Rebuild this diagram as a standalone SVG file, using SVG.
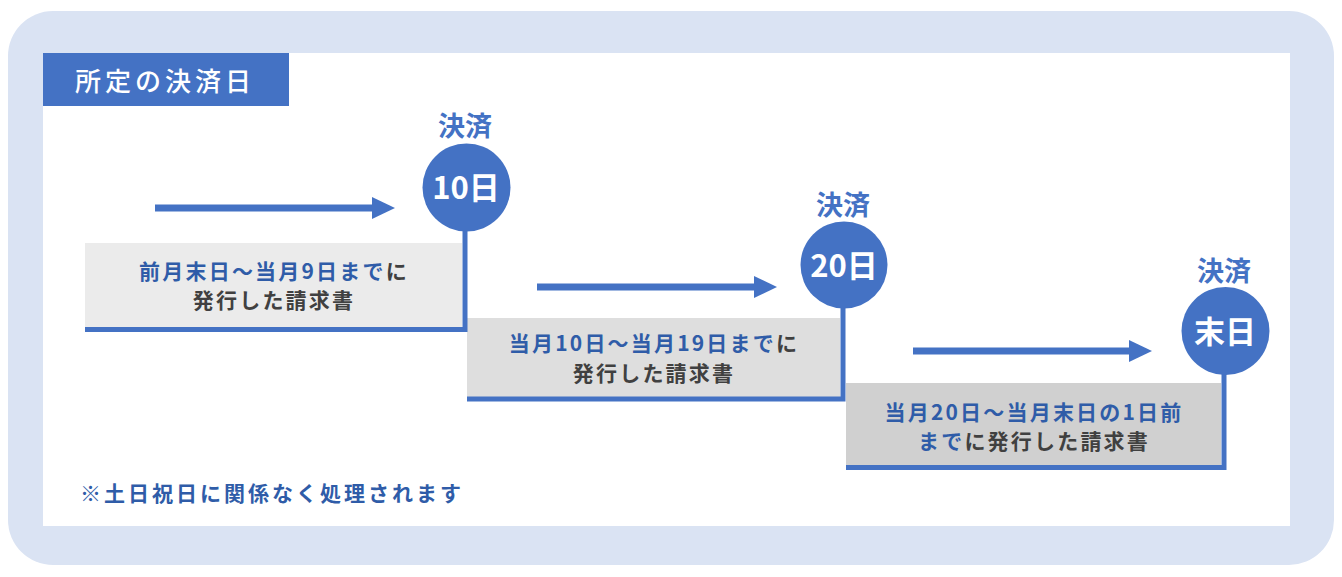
<svg xmlns="http://www.w3.org/2000/svg" width="1342" height="577" viewBox="0 0 1342 577">
<style>
text{font-family:"Noto Sans CJK JP","Noto Sans",sans-serif;font-weight:bold;text-anchor:middle;dominant-baseline:central}
.blue{fill:#2F5CA8}
.dark{fill:#404040}
.lbl{font-size:27px;fill:#4472C4}
.circ{fill:#4472C4}
.ctxt{font-size:31px;fill:#FFFFFF}
.box{font-size:21px;letter-spacing:2.2px}
.conn{stroke:#4472C4;stroke-width:5;fill:none}
.arr{stroke:#4472C4;stroke-width:7;fill:none}
</style>
<defs>
<marker id="ah" markerUnits="userSpaceOnUse" markerWidth="23" markerHeight="23" refX="0" refY="11" orient="auto">
<path d="M0,0 L23,11 L0,22 z" fill="#4472C4"/>
</marker>
</defs>
<rect x="0" y="0" width="1342" height="577" fill="#FFFFFF"/>
<rect x="8" y="11" width="1326" height="554" rx="45" fill="#DAE3F3"/>
<rect x="43" y="53" width="1247" height="473" fill="#FFFFFF"/>
<g id="title">
<rect x="43" y="53" width="246" height="53" fill="#4472C4"/>
<text x="165" y="79" style="font-size:26px;font-weight:500;letter-spacing:4px;fill:#FFFFFF">所定の決済日</text>
</g>
<g id="box1">
<rect x="85" y="243" width="377" height="84" fill="#EBEBEB"/>
<text x="274" y="270" class="box"><tspan class="blue">前月末日～当月9日まで</tspan><tspan class="dark">に</tspan></text>
<text x="274" y="298.5" class="box dark">発行した請求書</text>
</g>
<g id="box2">
<rect x="467" y="318" width="373" height="79" fill="#DEDEDE"/>
<text x="654" y="342" class="box"><tspan class="blue">当月10日～当月19日まで</tspan><tspan class="dark">に</tspan></text>
<text x="654" y="372" class="box dark">発行した請求書</text>
</g>
<g id="box3">
<rect x="846" y="383" width="375" height="83" fill="#D0D0D0"/>
<text x="1034" y="411" class="box blue">当月20日～当月末日の1日前</text>
<text x="1034" y="440" class="box"><tspan class="blue">まで</tspan><tspan class="dark">に発行した請求書</tspan></text>
</g>
<g id="connectors">
<path class="conn" d="M465,188 V329.5 H85"/>
<path class="conn" d="M843,265 V399 H467"/>
<path class="conn" d="M1224,331 V467.5 H846"/>
<line class="arr" x1="155" y1="208" x2="372" y2="208" marker-end="url(#ah)"/>
<line class="arr" x1="537" y1="287" x2="754" y2="287" marker-end="url(#ah)"/>
<line class="arr" x1="913" y1="351" x2="1129" y2="351" marker-end="url(#ah)"/>
</g>
<g id="node10">
<text x="465" y="124" class="lbl">決済</text>
<circle cx="466.5" cy="187.5" r="44" class="circ"/>
<text x="466" y="185" class="ctxt">10日</text>
</g>
<g id="node20">
<text x="843" y="203" class="lbl">決済</text>
<circle cx="844" cy="265" r="43.5" class="circ"/>
<text x="844" y="263" class="ctxt">20日</text>
</g>
<g id="nodeEnd">
<text x="1224" y="269" class="lbl">決済</text>
<circle cx="1225.5" cy="331" r="44" class="circ"/>
<text x="1225" y="329" class="ctxt">末日</text>
</g>
<g id="note">
<text x="272" y="492" style="font-size:21px;letter-spacing:3px" class="blue">※土日祝日に関係なく処理されます</text>
</g>
</svg>
